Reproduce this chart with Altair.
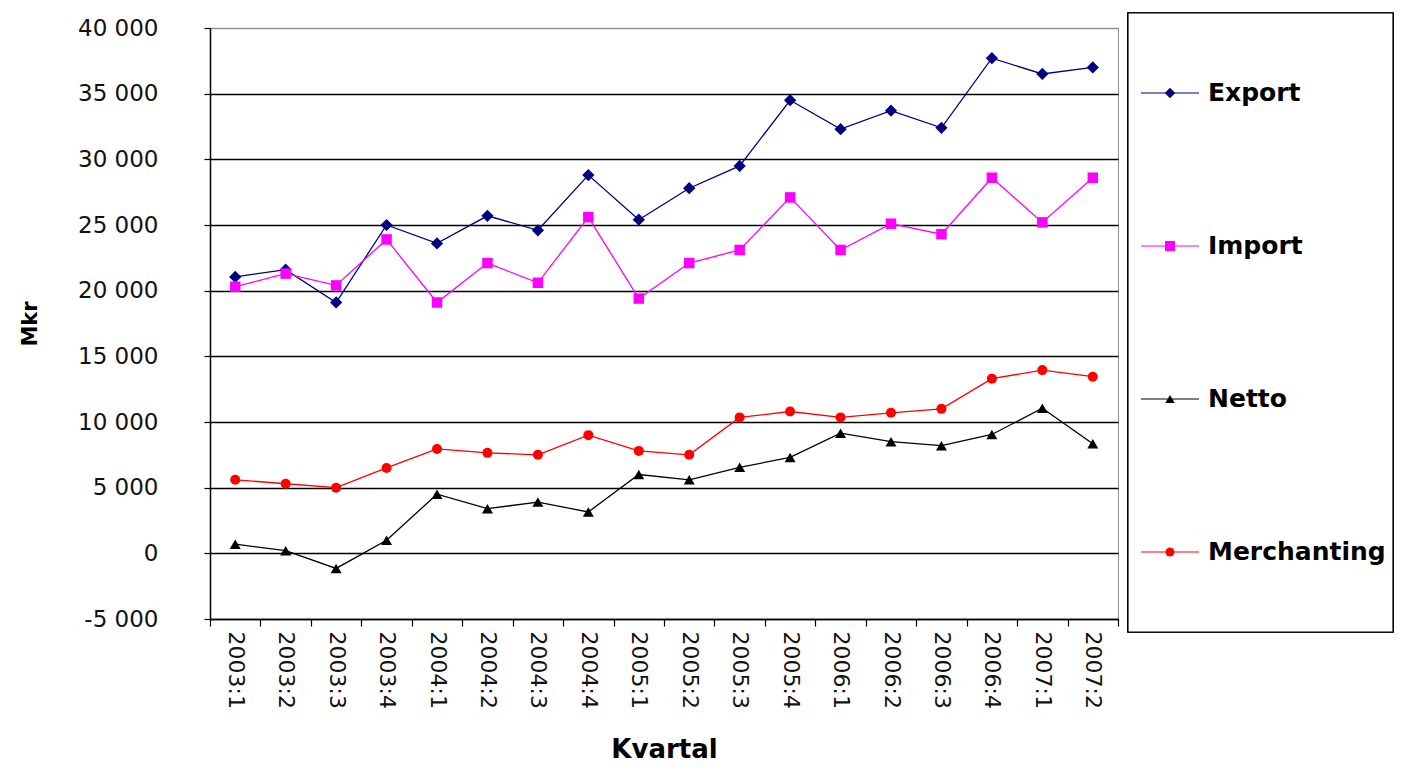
import altair as alt
import pandas as pd

quarters = ["2003:1", "2003:2", "2003:3", "2003:4", "2004:1", "2004:2", "2004:3", "2004:4",
            "2005:1", "2005:2", "2005:3", "2005:4", "2006:1", "2006:2", "2006:3", "2006:4",
            "2007:1", "2007:2"]
series_names = ["Export", "Import", "Netto", "Merchanting"]
export_vals = [21050, 21600, 19100, 25000, 23600, 25700, 24600, 28800, 25400,
               27800, 29500, 34500, 32300, 33700, 32400, 37700, 36500, 37000]
import_vals = [20300, 21300, 20400, 23900, 19100, 22100, 20600, 25600, 19400,
               22100, 23100, 27100, 23100, 25100, 24300, 28600, 25200, 28600]
netto_vals = [700, 200, -1150, 1000, 4500, 3400, 3900, 3150, 6000,
              5600, 6550, 7300, 9150, 8500, 8200, 9050, 11050, 8350]
merch_vals = [5600, 5300, 5000, 6500, 7950, 7650, 7500, 9000, 7800,
              7500, 10350, 10800, 10350, 10700, 11000, 13300, 13950, 13450]
y_ticks = [-5000, 0, 5000, 10000, 15000, 20000, 25000, 30000, 35000, 40000]

colors = ["#000080", "#FF00FF", "#000000", "#FF0000"]
marker_shapes = ["diamond", "square", "triangle-up", "circle"]
marker_sizes = [150, 110, 120, 100]
legend_marker_sizes = [110, 80, 90, 80]

rows = []
for name, vals in zip(series_names, [export_vals, import_vals, netto_vals, merch_vals]):
    for q, v in zip(quarters, vals):
        rows.append({"Kvartal": q, "Serie": name, "Mkr": v})
df = pd.DataFrame(rows)
legend_df = pd.DataFrame({"Serie": series_names})

FONT = "DejaVu Sans"

x_enc = alt.X(
    "Kvartal:N",
    sort=quarters,
    bandPosition=0.5,
    scale=alt.Scale(type="band", paddingInner=0, paddingOuter=0),
    axis=alt.Axis(
        title="Kvartal",
        labelAngle=90,
        labelFont=FONT,
        labelFontSize=22,
        labelColor="#111111",
        labelPadding=5,
        tickBand="extent",
        tickSize=7,
        tickColor="black",
        tickWidth=1.2,
        domainColor="black",
        domainWidth=1.5,
        grid=False,
        titleFont=FONT,
        titleFontSize=26,
        titleFontWeight="bold",
        titleColor="black",
        titleY=117,
    ),
)

y_enc = alt.Y(
    "Mkr:Q",
    scale=alt.Scale(domain=[-5000, 40000], nice=False, zero=False),
    axis=alt.Axis(
        title="Mkr",
        values=y_ticks,
        labelExpr="replace(replace(format(datum.value, ','), ',', ' '), '\u2212', '-')",
        labelFont=FONT,
        labelFontSize=23,
        labelColor="#111111",
        labelPadding=46,
        tickSize=6,
        tickColor="black",
        tickWidth=1.2,
        domainColor="black",
        domainWidth=1.5,
        grid=True,
        gridColor={"condition": {"test": "datum.value == 40000", "value": "#909090"}, "value": "black"},
        gridWidth=1.4,
        titleFont=FONT,
        titleFontSize=21,
        titleFontWeight="bold",
        titleColor="black",
        titleX=-170,
    ),
)

color_scale = alt.Scale(domain=series_names, range=colors)

base = alt.Chart(df)

lines = base.mark_line(strokeWidth=1.3).encode(
    x=x_enc,
    y=y_enc,
    color=alt.Color("Serie:N", scale=color_scale, legend=None),
)

point_layers = []
for name, col, shp, sz in zip(series_names, colors, marker_shapes, marker_sizes):
    point_layers.append(
        base.transform_filter(alt.datum.Serie == name)
        .mark_point(filled=True, shape=shp, size=sz, color=col, opacity=1, strokeWidth=0)
        .encode(x=x_enc, y=y_enc)
    )

main = alt.layer(lines, *point_layers)

# Legend panel (drawn from the series list through a point scale)
leg_y = alt.Y(
    "Serie:N",
    sort=series_names,
    scale=alt.Scale(type="point", domain=series_names, range=[65, 524], padding=0),
    axis=None,
)
leg_base = alt.Chart(legend_df)

leg_box = leg_base.mark_rect(fill="white", stroke="black", strokeWidth=1.2).encode(
    x=alt.value(918), x2=alt.value(1183), y=alt.value(-15), y2=alt.value(604)
)
leg_rules = leg_base.mark_rule(strokeWidth=1.2).encode(
    x=alt.value(931), x2=alt.value(989), y=leg_y,
    color=alt.Color("Serie:N", scale=color_scale, legend=None),
)
leg_points = leg_base.mark_point(filled=True, opacity=1, strokeWidth=0).encode(
    x=alt.value(960), y=leg_y,
    color=alt.Color("Serie:N", scale=color_scale, legend=None),
    shape=alt.Shape("Serie:N", scale=alt.Scale(domain=series_names, range=marker_shapes), legend=None),
    size=alt.Size("Serie:N", scale=alt.Scale(domain=series_names, range=legend_marker_sizes), legend=None),
)
leg_text = leg_base.mark_text(
    align="left", baseline="middle", font=FONT, fontSize=25, fontWeight="bold", color="black"
).encode(x=alt.value(998), y=leg_y, text=alt.Text("Serie:N"))

legend = alt.layer(leg_box, leg_rules, leg_points, leg_text)

chart = alt.layer(main, legend).resolve_scale(y="independent", size="independent").properties(
    width=908,
    height=591,
    autosize=alt.AutoSizeParams(type="none"),
    padding={"left": 202, "top": 20, "right": 276, "bottom": 151},
    background="white",
).configure_view(stroke="#909090", strokeWidth=1)

chart.save("out.html", embed_options={"renderer": "svg", "actions": False})
